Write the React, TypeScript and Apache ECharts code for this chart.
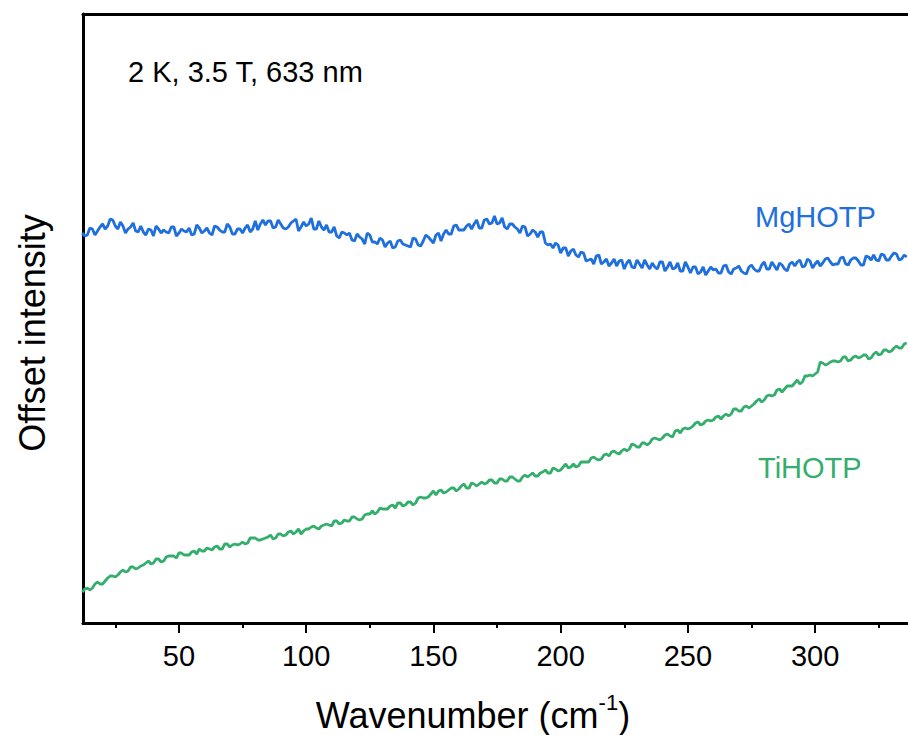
import React, { useEffect, useRef } from "react";
import * as echarts from "echarts";

const wavenumber = [
  12, 13, 14, 15, 16, 17, 18, 19, 20, 21,
  22, 23, 24, 25, 26, 27, 28, 29, 30, 31,
  32, 33, 34, 35, 36, 37, 38, 39, 40, 41,
  42, 43, 44, 45, 46, 47, 48, 49, 50, 51,
  52, 53, 54, 55, 56, 57, 58, 59, 60, 61,
  62, 63, 64, 65, 66, 67, 68, 69, 70, 71,
  72, 73, 74, 75, 76, 77, 78, 79, 80, 81,
  82, 83, 84, 85, 86, 87, 88, 89, 90, 91,
  92, 93, 94, 95, 96, 97, 98, 99, 100, 101,
  102, 103, 104, 105, 106, 107, 108, 109, 110, 111,
  112, 113, 114, 115, 116, 117, 118, 119, 120, 121,
  122, 123, 124, 125, 126, 127, 128, 129, 130, 131,
  132, 133, 134, 135, 136, 137, 138, 139, 140, 141,
  142, 143, 144, 145, 146, 147, 148, 149, 150, 151,
  152, 153, 154, 155, 156, 157, 158, 159, 160, 161,
  162, 163, 164, 165, 166, 167, 168, 169, 170, 171,
  172, 173, 174, 175, 176, 177, 178, 179, 180, 181,
  182, 183, 184, 185, 186, 187, 188, 189, 190, 191,
  192, 193, 194, 195, 196, 197, 198, 199, 200, 201,
  202, 203, 204, 205, 206, 207, 208, 209, 210, 211,
  212, 213, 214, 215, 216, 217, 218, 219, 220, 221,
  222, 223, 224, 225, 226, 227, 228, 229, 230, 231,
  232, 233, 234, 235, 236, 237, 238, 239, 240, 241,
  242, 243, 244, 245, 246, 247, 248, 249, 250, 251,
  252, 253, 254, 255, 256, 257, 258, 259, 260, 261,
  262, 263, 264, 265, 266, 267, 268, 269, 270, 271,
  272, 273, 274, 275, 276, 277, 278, 279, 280, 281,
  282, 283, 284, 285, 286, 287, 288, 289, 290, 291,
  292, 293, 294, 295, 296, 297, 298, 299, 300, 301,
  302, 303, 304, 305, 306, 307, 308, 309, 310, 311,
  312, 313, 314, 315, 316, 317, 318, 319, 320, 321,
  322, 323, 324, 325, 326, 327, 328, 329, 330, 331,
  332, 333, 334, 335, 336,
];

const mgHOTP = [
  390, 387, 388, 395, 394, 388, 392, 396, 399, 394,
  397, 404, 403, 397, 394, 401, 397, 390, 394, 396,
  400, 392, 391, 397, 391, 388, 394, 393, 387, 397,
  394, 390, 393, 391, 390, 396, 396, 387, 390, 394,
  392, 391, 395, 388, 389, 398, 395, 390, 392, 395,
  390, 388, 397, 396, 393, 391, 391, 399, 396, 389,
  389, 394, 394, 390, 395, 398, 391, 394, 402, 393,
  399, 403, 398, 402, 402, 395, 396, 403, 399, 395,
  394, 396, 400, 402, 404, 392, 396, 401, 397, 399,
  405, 394, 394, 402, 396, 393, 398, 391, 391, 396,
  387, 385, 391, 390, 388, 390, 383, 382, 389, 386,
  384, 379, 390, 388, 381, 381, 379, 385, 383, 376,
  380, 382, 375, 376, 382, 383, 379, 378, 377, 376,
  385, 384, 378, 377, 382, 388, 386, 383, 380, 388,
  390, 382, 389, 393, 389, 389, 397, 398, 393, 393,
  393, 397, 399, 394, 399, 403, 395, 395, 403, 404,
  399, 400, 407, 399, 400, 405, 396, 394, 399, 399,
  396, 394, 390, 397, 396, 387, 389, 393, 391, 386,
  391, 391, 380, 378, 379, 375, 380, 378, 370, 375,
  375, 367, 372, 374, 368, 366, 371, 370, 362, 363,
  364, 359, 367, 368, 359, 361, 364, 357, 360, 364,
  357, 362, 363, 354, 360, 363, 356, 355, 363, 359,
  355, 363, 358, 354, 360, 356, 354, 361, 361, 352,
  356, 361, 354, 355, 360, 352, 352, 361, 356, 350,
  356, 356, 349, 351, 356, 348, 352, 356, 353, 354,
  350, 350, 357, 358, 351, 349, 354, 355, 357, 352,
  350, 349, 356, 358, 354, 352, 352, 358, 361, 354,
  354, 361, 357, 353, 360, 358, 354, 352, 359, 361,
  357, 361, 363, 356, 357, 364, 362, 355, 359, 362,
  357, 360, 364, 365, 361, 358, 359, 359, 365, 366,
  359, 358, 363, 365, 365, 362, 358, 358, 367, 366,
  363, 368, 363, 362, 369, 368, 363, 363, 367, 370,
  369, 363, 364, 368, 366,
];

const tiHOTP = [
  31, 34, 35, 33, 35, 39, 41, 39, 39, 42,
  45, 47, 47, 46, 48, 51, 53, 51, 52, 56,
  56, 54, 55, 57, 58, 60, 62, 59, 60, 64,
  64, 61, 62, 66, 67, 67, 67, 65, 70, 70,
  68, 68, 68, 71, 72, 69, 74, 72, 72, 75,
  74, 73, 76, 77, 74, 74, 79, 79, 76, 78,
  79, 78, 79, 81, 79, 80, 85, 85, 85, 83,
  83, 84, 85, 86, 88, 84, 85, 89, 89, 87,
  88, 91, 92, 89, 91, 94, 89, 92, 94, 94,
  96, 97, 95, 94, 97, 98, 99, 98, 97, 102,
  102, 99, 100, 103, 102, 102, 106, 106, 104, 103,
  104, 108, 109, 109, 112, 109, 111, 115, 114, 114,
  114, 117, 118, 115, 120, 120, 117, 118, 121, 121,
  118, 120, 125, 126, 125, 125, 126, 129, 132, 128,
  132, 133, 130, 131, 133, 135, 135, 132, 134, 137,
  139, 135, 135, 140, 139, 137, 139, 141, 139, 140,
  143, 143, 140, 140, 144, 144, 142, 142, 146, 146,
  144, 142, 142, 146, 148, 146, 148, 150, 147, 147,
  150, 151, 153, 150, 150, 155, 154, 152, 153, 156,
  159, 155, 156, 159, 156, 157, 161, 161, 161, 161,
  165, 166, 164, 163, 164, 168, 169, 167, 171, 172,
  170, 169, 172, 174, 172, 174, 179, 178, 176, 176,
  180, 180, 178, 180, 184, 185, 184, 183, 185, 188,
  189, 187, 186, 192, 193, 190, 194, 195, 194, 195,
  197, 200, 201, 198, 199, 202, 203, 202, 203, 206,
  207, 204, 207, 209, 207, 209, 214, 214, 212, 212,
  216, 217, 215, 217, 219, 222, 224, 221, 223, 227,
  228, 227, 228, 233, 234, 231, 234, 237, 237, 237,
  240, 243, 239, 241, 247, 247, 248, 247, 249, 251,
  261, 260, 258, 259, 261, 262, 262, 261, 262, 266,
  266, 262, 263, 266, 267, 265, 266, 268, 268, 264,
  265, 269, 271, 268, 269, 273, 273, 271, 272, 275,
  277, 275, 275, 279, 280,
];

const majorTicks = [50, 100, 150, 200, 250, 300];
const minorTicks = [25, 75, 125, 175, 225, 275, 325];

const BLUE = "#1f6fdd";
const GREEN = "#34ae6c";
const FONT = "Liberation Sans, Arial, sans-serif";

export default function App() {
  const ref = useRef<HTMLDivElement>(null);

  useEffect(() => {
    if (!ref.current) return;
    const chart = echarts.init(ref.current, undefined, { renderer: "svg" });
    const xMin = 12.3;
    const xMax = 336.5;
    chart.setOption({
      animation: false,
      backgroundColor: "#ffffff",
      grid: { left: 83, right: 0, top: 14, bottom: 112 },
      xAxis: [
        {
          type: "value",
          min: xMin,
          max: xMax,
          position: "bottom",
          axisLine: { show: true, onZero: false, lineStyle: { color: "#000", width: 3 } },
          axisTick: { show: true, inside: false, length: 10, customValues: majorTicks, lineStyle: { color: "#000", width: 2 } },
          axisLabel: { show: true, customValues: majorTicks, margin: 18, fontSize: 29, color: "#000", fontFamily: FONT },
          splitLine: { show: false },
        },
        {
          type: "value",
          min: xMin,
          max: xMax,
          position: "bottom",
          axisLine: { show: false, onZero: false },
          axisTick: { show: true, inside: false, length: 5, customValues: minorTicks, lineStyle: { color: "#000", width: 2 } },
          axisLabel: { show: false },
          splitLine: { show: false },
        },
        {
          type: "value",
          min: xMin,
          max: xMax,
          position: "top",
          axisLine: { show: true, onZero: false, lineStyle: { color: "#000", width: 3 } },
          axisTick: { show: false },
          axisLabel: { show: false },
          splitLine: { show: false },
        },
      ],
      yAxis: {
        type: "value",
        min: 0,
        max: 609,
        axisLine: { show: true, onZero: false, lineStyle: { color: "#000", width: 3 } },
        axisTick: { show: false },
        axisLabel: { show: false },
        splitLine: { show: false },
      },
      series: [
        {
          name: "MgHOTP",
          type: "line",
          xAxisIndex: 0,
          showSymbol: false,
          symbol: "none",
          lineStyle: { color: BLUE, width: 2.8 },
          data: wavenumber.map((x, i) => [x, mgHOTP[i]]),
        },
        {
          name: "TiHOTP",
          type: "line",
          xAxisIndex: 0,
          showSymbol: false,
          symbol: "none",
          lineStyle: { color: GREEN, width: 2.8 },
          data: wavenumber.map((x, i) => [x, tiHOTP[i]]),
        },
      ],
      graphic: [
        {
          type: "text",
          x: 128,
          y: 72,
          style: { text: "2 K, 3.5 T, 633 nm", fontSize: 29, fontFamily: FONT, fill: "#000", align: "left", verticalAlign: "middle" },
        },
        {
          type: "text",
          x: 755,
          y: 217,
          style: { text: "MgHOTP", fontSize: 29, fontFamily: FONT, fill: BLUE, align: "left", verticalAlign: "middle" },
        },
        {
          type: "text",
          x: 758,
          y: 468,
          style: { text: "TiHOTP", fontSize: 29, fontFamily: FONT, fill: GREEN, align: "left", verticalAlign: "middle" },
        },
        {
          type: "text",
          x: 32,
          y: 333,
          rotation: Math.PI / 2,
          style: { text: "Offset intensity", fontSize: 36, fontFamily: FONT, fill: "#000", align: "center", verticalAlign: "middle" },
        },
        {
          type: "text",
          x: 473,
          y: 712,
          style: {
            text: "{a|Wavenumber (cm}{s|-1}{a|)}",
            align: "center",
            verticalAlign: "middle",
            rich: {
              a: { fontSize: 36, fontFamily: FONT, fill: "#000", color: "#000", lineHeight: 42, verticalAlign: "bottom" },
              s: { fontSize: 22, fontFamily: FONT, fill: "#000", color: "#000", lineHeight: 42, verticalAlign: "top", padding: [0, 0, 14, 0] },
            },
          },
        },
      ],
    });
    return () => chart.dispose();
  }, []);

  return (
    <div
      ref={ref}
      style={{ position: "fixed", left: 0, top: 0, width: 908, height: 735, background: "#fff" }}
    />
  );
}
